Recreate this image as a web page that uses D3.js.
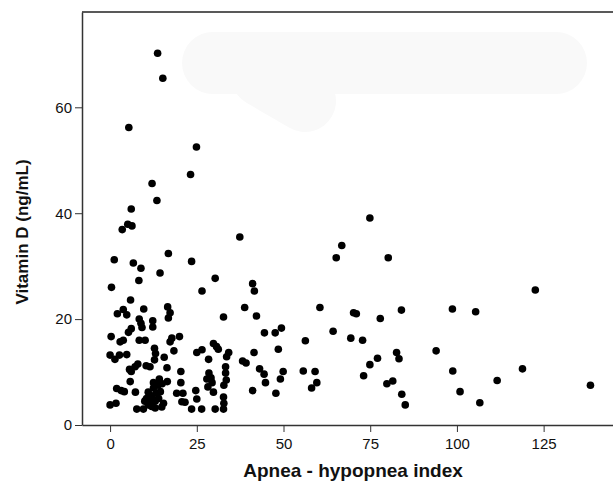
<!DOCTYPE html>
<html>
<head>
<meta charset="utf-8">
<script src="https://cdn.jsdelivr.net/npm/d3@7"></script>
<style>
  body { margin: 0; background: #fff; }
  text { font-family: "Liberation Sans", Arial, sans-serif; }
</style>
</head>
<body>
<div id="chart"></div>
<script>
// apnea-hypopnea index (x) and vitamin D (y)
var ahi = [13.7, 15.2, 5.4, 24.9, 23.2, 12.1, 13.5, 6.1,
  3.5, 5.1, 6.3, 37.4,
  1.2, 6.7, 8.9, 8.3, 16.8, 14.4, 23.5, 0.4, 26.5, 30.3, 5.9,
  2.1, 3.8, 4.8, 9.7, 16.6, 17.3, 16.8, 32.7,
  8.4, 8.9, 9.2, 12.3, 12.3, 6.1, 5.3, 0.3, 2.9, 3.8, 8.4, 10.1, 17.3, 17.8, 20.0, 18.4,
  0.0, 1.4, 2.7, 4.8, 12.8, 13.1, 12.8, 15.6, 25.0, 26.5, 29.8, 30.7, 31.2, 28.4,
  34.2, 33.6, 33.3, 33.3, 33.5, 32.8,
  8.0, 7.2, 5.6, 6.1, 10.4, 11.5, 16.4, 20.4,
  28.5, 29.1, 27.9, 29.4, 28.2, 29.8,
  5.8, 16.5, 14.2, 20.4, 1.9, 3.2, 4.1, 7.3, 19.2, 21.0, 24.7, 25.0, 20.7, 21.6, 0.0, 1.7,
  7.7, 9.6, 23.5, 26.4, 30.3, 32.7, 32.8, 32.7, 14.9,
  10.5, 11.0, 11.5, 12.0, 12.5, 13.0, 13.3, 13.8, 14.0, 12.0, 13.0, 11.0, 14.5, 15.0, 15.4, 10.0, 12.5,
  38.8, 41.1, 41.6, 42.2, 44.5, 47.6, 49.4, 48.5, 41.5, 38.2, 39.2, 43.1, 44.4, 44.8, 49.9, 49.1,
  41.1, 47.8, 56.3, 55.7, 59.1, 59.6, 58.1, 60.5, 74.9, 66.8, 65.2, 80.2, 64.3, 70.2, 71.0, 77.9,
  84.0, 69.4, 72.8, 82.6, 83.3, 77.1, 74.9, 73.1, 79.8, 81.5, 84.1, 85.1, 94.0,
  98.7, 105.4, 122.6, 98.8, 100.9, 106.6, 111.6, 118.9, 138.5];

var vitD = [70.2, 65.5, 56.2, 52.5, 47.3, 45.6, 42.4, 40.8,
  36.9, 37.9, 37.6, 35.5,
  31.2, 30.6, 29.6, 27.3, 32.4, 28.7, 30.9, 26.0, 25.3, 27.7, 23.6,
  21.0, 21.8, 20.8, 21.9, 22.3, 21.2, 20.2, 20.4,
  20.0, 19.2, 18.4, 19.7, 18.5, 18.2, 17.5, 16.7, 15.7, 16.0, 16.0, 16.0, 15.7, 16.4, 16.7, 14.0,
  13.2, 12.4, 13.2, 13.3, 14.5, 13.5, 12.3, 12.8, 13.7, 14.2, 15.4, 14.8, 14.3, 12.4,
  13.7, 12.9, 11.0, 9.8, 8.5, 7.5,
  11.5, 11.0, 10.5, 10.1, 11.2, 11.0, 10.8, 10.1,
  9.8, 8.9, 8.7, 8.0, 7.2, 6.2,
  8.2, 8.2, 8.7, 8.0, 6.9, 6.5, 6.3, 6.2, 6.0, 6.0, 6.5, 4.9, 4.4, 4.3, 3.8, 4.1,
  3.0, 3.0, 3.0, 3.0, 3.0, 3.0, 4.1, 5.3, 3.4,
  5.0, 6.2, 4.3, 5.5, 7.0, 4.5, 6.0, 7.5, 5.0, 3.5, 3.2, 3.8, 6.3, 7.8, 4.1, 4.5, 8.0,
  22.2, 26.7, 25.3, 20.6, 17.4, 17.4, 18.3, 14.3, 13.7, 12.1, 11.7, 10.6, 9.6, 8.0, 10.1, 8.7,
  6.5, 6.0, 15.9, 10.2, 10.1, 8.0, 7.0, 22.2, 39.1, 33.9, 31.6, 31.6, 17.7, 21.2, 21.0, 20.1,
  21.7, 16.4, 16.0, 13.7, 12.5, 12.6, 11.4, 9.3, 7.8, 8.3, 5.8, 3.8, 14.0,
  21.9, 21.4, 25.5, 10.2, 6.3, 4.2, 8.4, 10.6, 7.5];

var xTicks = [0, 25, 50, 75, 100, 125];
var yTicks = [0, 20, 40, 60];

var data = ahi.map(function(d, i) { return {x: d, y: vitD[i]}; });

var W = 613, H = 486;
var margin = {top: 12, right: 0, bottom: 61, left: 82},
    width = W - margin.left - margin.right,
    height = H - margin.top - margin.bottom;

var svg = d3.select("#chart").append("svg")
    .attr("width", W)
    .attr("height", H);

// faint smudge in the upper right of the original
svg.append("g")
  .selectAll("line")
  .data([[213, 63, 556, 63], [262, 76, 305, 101]])
  .enter().append("line")
    .attr("x1", function(d) { return d[0]; })
    .attr("y1", function(d) { return d[1]; })
    .attr("x2", function(d) { return d[2]; })
    .attr("y2", function(d) { return d[3]; })
    .attr("stroke", "#f9f9f9")
    .attr("stroke-width", 62)
    .attr("stroke-linecap", "round");

var g = svg.append("g")
    .attr("transform", "translate(" + margin.left + "," + margin.top + ")");

var x = d3.scaleLinear().domain([-8.1, 145]).range([0, width]);
var y = d3.scaleLinear().domain([0, 78]).range([height, 0]);

// frame: top line
g.append("line")
  .attr("x1", 0).attr("x2", width)
  .attr("y1", 0).attr("y2", 0)
  .attr("stroke", "#222").attr("stroke-width", 1.5);

// X axis
var xAxis = g.append("g")
  .attr("transform", "translate(0," + height + ")")
  .call(d3.axisBottom(x).tickValues(xTicks).tickSize(7).tickSizeOuter(0).tickPadding(6));
xAxis.select(".domain").attr("stroke", "#333").attr("stroke-width", 1.5);
xAxis.selectAll(".tick line").attr("stroke", "#333");
xAxis.selectAll("text").style("font-size", "15px").attr("fill", "#111");

// Y axis
var yAxis = g.append("g")
  .call(d3.axisLeft(y).tickValues(yTicks).tickSize(7).tickSizeOuter(0).tickPadding(3));
yAxis.select(".domain").attr("stroke", "#333").attr("stroke-width", 1.5);
yAxis.selectAll(".tick line").attr("stroke", "#333");
yAxis.selectAll("text").style("font-size", "15px").attr("fill", "#111");

// axis titles
svg.append("text")
  .attr("text-anchor", "middle")
  .attr("x", 353)
  .attr("y", 477)
  .style("font-size", "19px")
  .style("font-weight", "bold")
  .attr("fill", "#111")
  .text("Apnea - hypopnea index");

svg.append("text")
  .attr("text-anchor", "middle")
  .attr("transform", "translate(28,232) rotate(-90)")
  .style("font-size", "17px")
  .style("font-weight", "bold")
  .attr("fill", "#111")
  .text("Vitamin D (ng/mL)");

// points
g.append("g")
  .selectAll("circle")
  .data(data)
  .enter()
  .append("circle")
    .attr("cx", function(d) { return x(d.x); })
    .attr("cy", function(d) { return y(d.y); })
    .attr("r", 3.8)
    .style("fill", "#000");
</script>
</body>
</html>
